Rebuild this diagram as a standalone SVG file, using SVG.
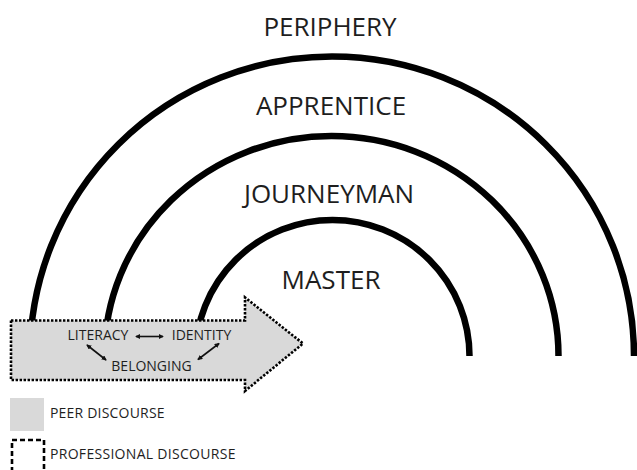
<svg xmlns="http://www.w3.org/2000/svg" width="637" height="470" viewBox="0 0 637 470">
  <defs>
    <style>
      .arc { fill: none; stroke: #000; stroke-width: 6.5; stroke-linecap: butt; }
      .lvl { font-family: "Open Sans", "Liberation Sans", sans-serif; font-size: 26px; fill: #1e1e1e; text-anchor: middle; }
      .inner { font-family: "Open Sans", "Liberation Sans", sans-serif; font-size: 14px; fill: #1e1e1e; text-anchor: middle; }
      .legend { font-family: "Open Sans", "Liberation Sans", sans-serif; font-size: 14px; fill: #1e1e1e; }
      .link { fill: none; stroke: #111; stroke-width: 1.6; marker-start: url(#tip); marker-end: url(#tip); }
    </style>
    <marker id="tip" viewBox="0 0 6 6" refX="5" refY="3" markerWidth="3.2" markerHeight="3.2" orient="auto-start-reverse" markerUnits="strokeWidth">
      <path d="M0,0 L6,3 L0,6 Z" fill="#111"/>
    </marker>
  </defs>
  <rect width="637" height="470" fill="#ffffff"/>

  <g id="rings">
    <g id="periphery">
      <path class="arc" d="M 30 356 A 302 299.5 0 0 1 634 356"/>
      <text class="lvl" x="330" y="36">PERIPHERY</text>
    </g>
    <g id="apprentice">
      <path class="arc" d="M 104.5 356 A 227 220 0 0 1 558.5 356"/>
      <text class="lvl" x="331" y="115">APPRENTICE</text>
    </g>
    <g id="journeyman">
      <path class="arc" d="M 195.5 356 A 137 136 0 0 1 469.5 356"/>
      <text class="lvl" x="329" y="203">JOURNEYMAN</text>
    </g>
    <g id="master">
      <text class="lvl" x="331" y="289">MASTER</text>
    </g>
  </g>

  <g id="peer-discourse-arrow">
    <polygon points="11,320.5 245,320.5 245,297.5 303,343.5 245,391 245,380 11,380" fill="#d9d9d9" stroke="#000" stroke-width="2.6" stroke-dasharray="2.4 1.6"/>
  </g>
  <g id="literacy"><text class="inner" x="98" y="340">LITERACY</text></g>
  <g id="identity"><text class="inner" x="201.5" y="340">IDENTITY</text></g>
  <g id="belonging"><text class="inner" x="151.5" y="371">BELONGING</text></g>

  <g id="connectors">
    <line class="link" x1="136" y1="336.5" x2="163" y2="336.5"/>
    <line class="link" x1="87" y1="345" x2="106" y2="360"/>
    <line class="link" x1="219" y1="343.5" x2="198" y2="359.5"/>
  </g>

  <g id="legend">
    <g id="legend-peer">
      <rect x="10" y="398" width="34" height="33" fill="#d9d9d9"/>
      <text class="legend" x="50" y="418" letter-spacing="0.2">PEER DISCOURSE</text>
    </g>
    <g id="legend-professional">
      <rect x="12" y="440" width="32" height="32" fill="none" stroke="#000" stroke-width="2.6" stroke-dasharray="5 3"/>
      <text class="legend" x="50" y="459" letter-spacing="0.3">PROFESSIONAL DISCOURSE</text>
    </g>
  </g>
</svg>
